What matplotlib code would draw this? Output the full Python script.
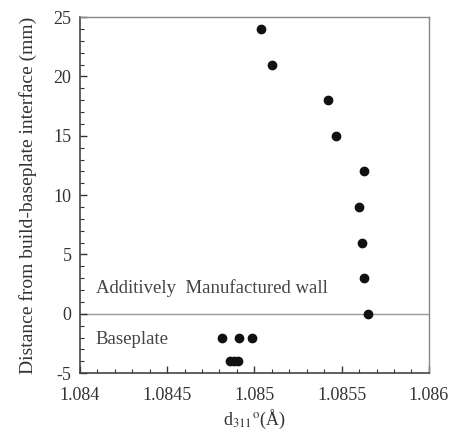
import matplotlib
matplotlib.use('Agg')
import matplotlib.pyplot as plt
from matplotlib.ticker import MultipleLocator

plt.rcParams['font.family'] = ['Liberation Serif', 'DejaVu Serif']
plt.rcParams['mathtext.fontset'] = 'stix'

# lattice spacing d311 (Angstrom) vs distance from interface (mm)
d311 = [1.08504, 1.08510, 1.08542, 1.085465, 1.08563, 1.08560, 1.085616,
        1.08563, 1.085652, 1.084812, 1.084911, 1.084988, 1.084863, 1.084884, 1.084904]
dist = [24, 21, 18, 15, 12, 9, 6, 3, 0, -2, -2, -2, -4, -4, -4]

fig = plt.figure(figsize=(4.51, 4.37), dpi=100)
ax = fig.add_axes([0.177, 0.146, 0.774, 0.815])

ax.axhline(0, color='#999999', lw=1.0, zorder=1)
ax.plot(d311, dist, 'o', color='#111111', markersize=6, zorder=3)

ax.set_xlim(1.084, 1.086)
ax.set_ylim(-5, 25)
ax.set_xticks([1.084, 1.0845, 1.085, 1.0855, 1.086])
ax.set_xticklabels(['1.084', '1.0845', '1.085', '1.0855', '1.086'])
ax.set_yticks([-5, 0, 5, 10, 15, 20, 25])
ax.set_yticklabels(['-5', '0', '5', '10', '15', '20', '25'])
ax.xaxis.set_minor_locator(MultipleLocator(0.0001))
ax.yaxis.set_minor_locator(MultipleLocator(1))
ax.tick_params(which='both', direction='in', top=False, right=False,
               labelsize=13, colors='#333333', labelcolor='#333333')
ax.tick_params(which='major', length=5, width=1)
ax.tick_params(which='minor', length=3, width=0.8)
ax.tick_params(axis='x', which='major', pad=10)
ax.tick_params(axis='y', which='major', pad=6)

for s in ['left', 'bottom']:
    ax.spines[s].set_color('#444444')
    ax.spines[s].set_linewidth(1.2)
for s in ['top', 'right']:
    ax.spines[s].set_color('#888888')
    ax.spines[s].set_linewidth(1.0)

ax.set_xlabel(r'd$_{311}$$^{\rm o}$(Å)', fontsize=13, color='#333333', labelpad=3)
ax.set_ylabel('Distance from build-baseplate interface (mm)', fontsize=14,
              color='#333333', labelpad=12)

ax.text(1.08409, 2.2, 'Additively  Manufactured wall', fontsize=13.5,
        color='#444444', va='center', ha='left')
ax.text(1.08409, -2.2, 'Baseplate', fontsize=13.5, color='#444444',
        va='center', ha='left')

fig.savefig('out.png', dpi=100)
